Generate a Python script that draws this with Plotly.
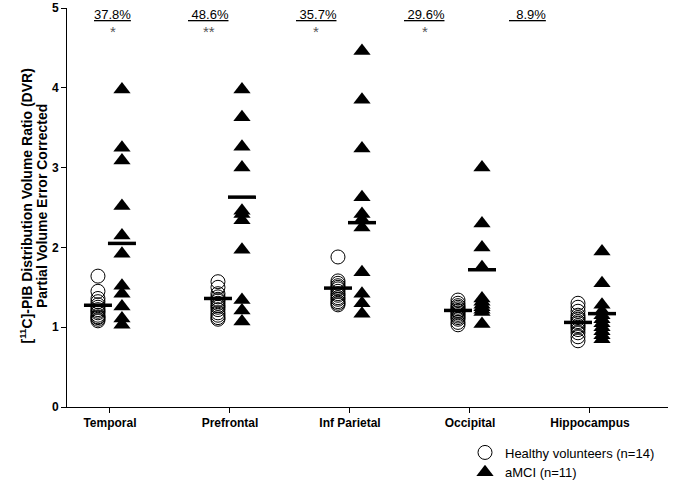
import plotly.graph_objects as go

regions = ["Temporal", "Prefrontal", "Inf Parietal", "Occipital", "Hippocampus"]

healthy = {
    "Temporal":     [1.64, 1.45, 1.36, 1.32, 1.28, 1.25, 1.22, 1.20, 1.18, 1.15, 1.13, 1.12, 1.10, 1.08],
    "Prefrontal":   [1.57, 1.50, 1.42, 1.38, 1.35, 1.33, 1.30, 1.27, 1.25, 1.22, 1.18, 1.15, 1.12, 1.10],
    "Inf Parietal": [1.88, 1.58, 1.55, 1.52, 1.50, 1.48, 1.45, 1.42, 1.40, 1.37, 1.35, 1.32, 1.30, 1.28],
    "Occipital":    [1.34, 1.30, 1.27, 1.25, 1.23, 1.21, 1.20, 1.18, 1.16, 1.14, 1.12, 1.10, 1.06, 1.03],
    "Hippocampus":  [1.30, 1.25, 1.20, 1.15, 1.12, 1.10, 1.07, 1.05, 1.02, 1.00, 0.97, 0.93, 0.88, 0.83],
}
amci = {
    "Temporal":     [3.98, 3.25, 3.09, 2.52, 2.15, 1.92, 1.52, 1.42, 1.26, 1.11, 1.03],
    "Prefrontal":   [3.98, 3.63, 3.26, 3.00, 2.46, 2.42, 2.34, 1.97, 1.34, 1.21, 1.07],
    "Inf Parietal": [4.46, 3.85, 3.24, 2.63, 2.42, 2.35, 2.25, 1.69, 1.42, 1.30, 1.17],
    "Occipital":    [3.00, 2.30, 2.00, 1.75, 1.36, 1.32, 1.28, 1.25, 1.22, 1.19, 1.04],
    "Hippocampus":  [1.95, 1.55, 1.28, 1.20, 1.15, 1.10, 1.05, 1.00, 0.95, 0.90, 0.85],
}
healthy_mean = [1.275, 1.36, 1.49, 1.21, 1.06]
amci_mean = [2.05, 2.63, 2.31, 1.72, 1.17]
pct_labels = ["37.8%", "\u00a048.6%", "\u00a035.7%", "\u00a029.6%", "\u00a0\u00a08.9%"]
pct_pos = [0.025, 0.825, 1.717, 2.625, 3.483]
sig_labels = ["*", "**", "*", "*", ""]

OFF = 0.1
FONT = "Arial, Liberation Sans, sans-serif"
W, H = 675, 483
L, R, T, B = 67, 668, 8, 407   # plot-area pixel box

hx, hy, ax_, ay = [], [], [], []
for i, r in enumerate(regions):
    hx += [i - OFF] * len(healthy[r]); hy += healthy[r]
    ax_ += [i + OFF] * len(amci[r]); ay += amci[r]

fig = go.Figure()
fig.add_trace(go.Scatter(x=hx, y=hy, mode="markers", name="Healthy volunteers (n=14)",
                         marker=dict(symbol="circle-open", size=14, color="black", line=dict(width=1))))
fig.add_trace(go.Scatter(x=ax_, y=ay, mode="markers", name="aMCI (n=11)",
                         marker=dict(symbol="triangle-up", size=15, color="black", line=dict(width=0))))
fig.add_trace(go.Scatter(x=[i - OFF for i in range(5)], y=healthy_mean, mode="markers", showlegend=False,
                         marker=dict(symbol="line-ew-open", size=20, color="black", line=dict(width=3.5, color="black"))))
fig.add_trace(go.Scatter(x=[i + OFF for i in range(5)], y=amci_mean, mode="markers", showlegend=False,
                         marker=dict(symbol="line-ew-open", size=20, color="black", line=dict(width=3.5, color="black"))))

for p, lab, s in zip(pct_pos, pct_labels, sig_labels):
    fig.add_annotation(x=p, y=(H - 14) / H, xref="x", yref="paper", xanchor="center", yanchor="middle",
                       text="<u>" + lab + "</u>", showarrow=False,
                       font=dict(family=FONT, size=13, color="black"))
    if s:
        fig.add_annotation(x=p, y=(H - 31) / H, xref="x", yref="paper", xanchor="center", yanchor="middle",
                           text=s, showarrow=False,
                           font=dict(family=FONT, size=15, color="#555"))

fig.add_annotation(x=26.5 / W, y=(H - 206) / H, xref="paper", yref="paper", xanchor="center", yanchor="middle",
                   textangle=-90, showarrow=False,
                   text="<b>[<sup>11</sup>C]-PIB Distribution Volume Ratio (DVR)</b>",
                   font=dict(family=FONT, size=14, color="black"))
fig.add_annotation(x=42 / W, y=(H - 206) / H, xref="paper", yref="paper", xanchor="center", yanchor="middle",
                   textangle=-90, showarrow=False,
                   text="<b>Partial Volume Error Corrected</b>",
                   font=dict(family=FONT, size=14, color="black"))

fig.update_layout(
    width=W, height=H,
    margin=dict(l=0, r=0, t=0, b=0, autoexpand=False),
    plot_bgcolor="white", paper_bgcolor="white",
    font=dict(family=FONT, color="black"),
    legend=dict(x=465 / W, y=-4.5 / H, xanchor="left", yanchor="bottom", bgcolor="rgba(0,0,0,0)",
                font=dict(family=FONT, size=13), tracegroupgap=0),
    xaxis=dict(domain=[L / W, R / W], range=[-0.358, 4.65], tickvals=list(range(5)),
               ticktext=["<b>%s</b>" % r for r in regions], automargin=False,
               showline=True, linecolor="black", linewidth=1, ticks="outside", ticklen=5, tickcolor="black",
               showgrid=False, zeroline=False, tickfont=dict(family=FONT, size=12)),
    yaxis=dict(domain=[(H - B) / H, (H - T) / H], range=[0, 5], tickvals=[0, 1, 2, 3, 4, 5],
               ticktext=["<b>%d</b>" % v for v in range(6)], automargin=False,
               showline=True, linecolor="black", linewidth=1, ticks="outside", ticklen=5, tickcolor="black",
               showgrid=False, zeroline=False, tickfont=dict(family=FONT, size=12)),
)
fig.write_html("out.html", config={"displayModeBar": False},
               post_script="document.body.style.margin='0';document.body.style.padding='0';")
